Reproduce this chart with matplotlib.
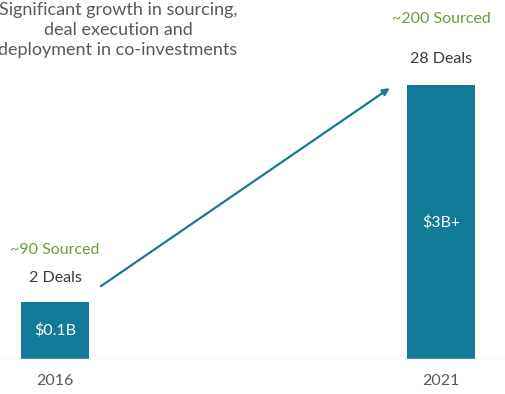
import numpy as np
import matplotlib.pyplot as plt

# data
years = ["2016", "2021"]
bar_heights = [1.0, 4.8]          # relative visual heights
value_labels = ["$0.1B", "$3B+"]
deal_labels = ["2 Deals", "28 Deals"]
sourced_labels = ["~90 Sourced", "~200 Sourced"]
title_text = "Significant growth in sourcing,\ndeal execution and\ndeployment in co-investments"

bar_color = "#117a96"
green = "#6f9a3c"
dark = "#3a3a3a"
gray = "#595959"

plt.rcParams['font.family'] = ['Lato', 'DejaVu Sans']

W, H = 505, 394
fig = plt.figure(figsize=(W / 100, H / 100), dpi=100)
# axes bottom at baseline, top at figure top
ax = fig.add_axes([0, (H - 359) / H, 1, 359 / H])

x = np.arange(len(years))
unit = 386.0  # px per category step
ax.set_xlim(-55 / unit, 1 + (W - 441) / unit)
ax.set_ylim(0, 359 / 57.0)

ax.bar(x, bar_heights, width=68 / unit, color=bar_color)

fs = 11.5
for i in range(len(years)):
    h = bar_heights[i]
    ax.text(x[i], h / 2, value_labels[i], ha="center", va="center",
            color="white", fontsize=fs)
    ax.text(x[i], h + (0.42 if i == 0 else 0.47), deal_labels[i], ha="center", va="center",
            color=dark, fontsize=fs)
    ax.text(x[i], h + (0.92 if i == 0 else 1.17), sourced_labels[i], ha="center", va="center",
            color=green, fontsize=fs)
    ax.text(x[i], -0.39, years[i], ha="center", va="center", color=gray,
            fontsize=fs, clip_on=False)

# growth arrow
ax.annotate("", xy=(x[1] - 0.127, bar_heights[1] - 0.02), xytext=(x[0] + 0.113, bar_heights[0] + 0.25),
            arrowprops=dict(arrowstyle="-|>", color="#1a7a8c", lw=1.6, mutation_scale=10))

# baseline
ax.axhline(0, color="#e4e4e4", lw=1)

for s in ax.spines.values():
    s.set_visible(False)
ax.set_xticks([])
ax.set_yticks([])

fig.text(118 / W, 1 - 30 / H, title_text, ha="center", va="center", color=gray,
         fontsize=13, linespacing=1.3)

fig.savefig("out.png", dpi=100)
